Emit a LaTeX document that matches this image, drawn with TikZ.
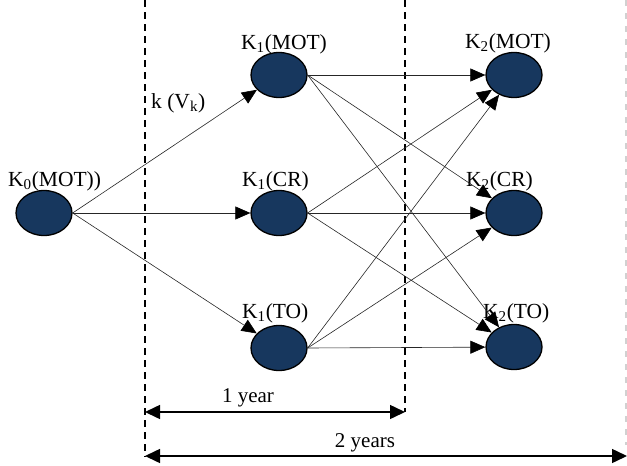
\documentclass[tikz,border=0pt]{standalone}
\usepackage{fontspec}
\setmainfont{Liberation Serif}
\usetikzlibrary{arrows.meta,shapes.geometric}
\definecolor{navy}{RGB}{23,55,94}
\begin{document}
\begin{tikzpicture}[x=1pt,y=-1pt,
  st/.style={ellipse,draw=black,line width=1.3pt,fill=navy,minimum width=56pt,minimum height=45pt,inner sep=0pt},
  lbl/.style={anchor=west,inner sep=0pt,font=\fontsize{21.5}{25}\selectfont},
  edge/.style={line width=0.6pt,draw=black!85,-{Triangle[length=15pt,width=13pt,color=black]}},
  vdash/.style={line width=1.8pt,dash pattern=on 7pt off 5pt},
  span/.style={line width=1.5pt,{Triangle[length=15pt,width=14pt]}-{Triangle[length=15pt,width=14pt]}}]
\useasboundingbox (0,0) rectangle (627,466);
% time lines
\coordinate (d1t) at (145,0); \coordinate (d1b) at (145,457);
\coordinate (d2t) at (405,0); \coordinate (d2b) at (405,412);
\coordinate (d3t) at (626,0); \coordinate (d3b) at (626,445);
\draw[vdash] (d1t) -- (d1b);
\draw[vdash] (d2t) -- (d2b);
\draw[line width=1.4pt,draw=black!18,dash pattern=on 6pt off 7pt] (d3t) -- (d3b);
% states
\node[st] (k0) at (44,213) {};
\node[st] (m1) at (279,75) {};
\node[st] (c1) at (279,213) {};
\node[st] (t1) at (279,348) {};
\node[st] (m2) at (514,75) {};
\node[st] (c2) at (514,213) {};
\node[st] (t2) at (514,347) {};
% labels
\node[lbl] (l0) at (8,181) {K\textsubscript{0}(MOT))};
\node[lbl] (lm1) at (241,44) {K\textsubscript{1}(MOT)};
\node[lbl] (lc1) at (242,181) {K\textsubscript{1}(CR)};
\node[lbl] (lt1) at (242,313) {K\textsubscript{1}(TO)};
\node[lbl] (lm2) at (465,43) {K\textsubscript{2}(MOT)};
\node[lbl] (lc2) at (466,181) {K\textsubscript{2}(CR)};
\node[lbl] (lt2) at (483,313) {K\textsubscript{2}(TO)};
\node[lbl] (lk) at (151,103) {k (V\textsubscript{k})};
% edges from K0
\draw[edge] (k0.east) -- (m1);
\draw[edge] (k0.east) -- (c1.west);
\draw[edge] (k0.east) -- (t1);
% edges from K1
\foreach \s in {m1,c1,t1}{
  \foreach \t in {m2,c2,t2}{
    \draw[edge] (\s.east) -- (\t);
  }
}
% spans
\coordinate (y1a) at (145,412); \coordinate (y1b) at (405,412);
\coordinate (y2a) at (145,456); \coordinate (y2b) at (627,456);
\draw[span] (y1a) -- (y1b);
\draw[span] (y2a) -- (y2b);
\node[font=\fontsize{21}{25}\selectfont,inner sep=0pt] (ly1) at (248,398) {1 year};
\node[font=\fontsize{21}{25}\selectfont,inner sep=0pt] (ly2) at (365,443) {2 years};
\end{tikzpicture}
\end{document}
